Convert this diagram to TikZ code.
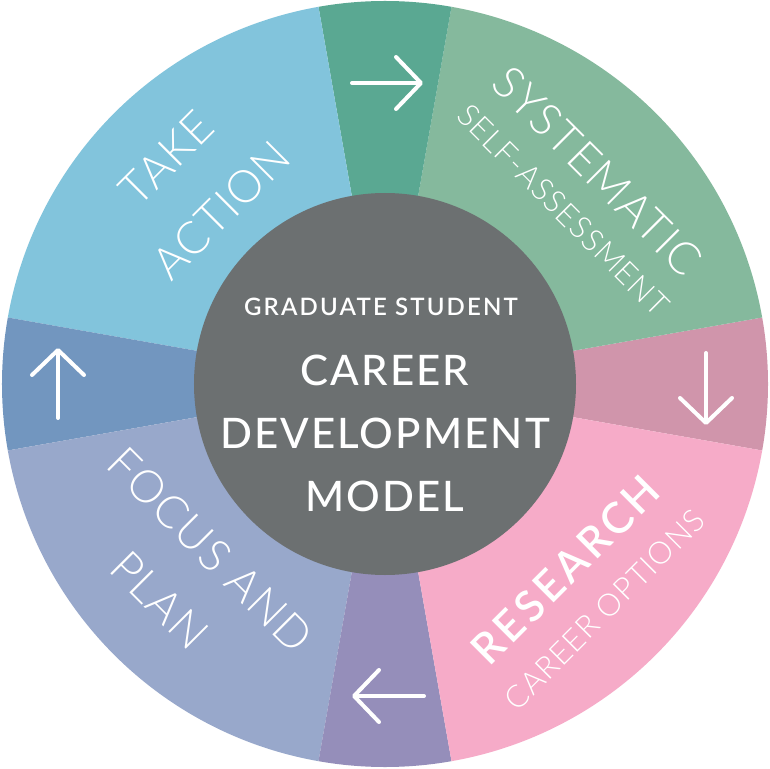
\documentclass[tikz,border=0pt]{standalone}
\usepackage{fontspec}
\setmainfont{Lato}
\newfontfamily\lightfont{Lato Light}[LetterSpace=3]
\newfontfamily\hubfont{Lato Medium}[LetterSpace=5]
\newfontfamily\gradfont{Lato Semibold}[LetterSpace=9]
\usetikzlibrary{arrows.meta,positioning}
\definecolor{actionblue}{HTML}{82C4DC}
\definecolor{turnteal}{HTML}{5AA892}
\definecolor{selfgreen}{HTML}{85B99D}
\definecolor{turnmauve}{HTML}{D095AB}
\definecolor{researchpink}{HTML}{F6ABC8}
\definecolor{turnpurple}{HTML}{958EBA}
\definecolor{planblue}{HTML}{98A8CB}
\definecolor{turnsteel}{HTML}{7296BF}
\definecolor{hubgrey}{HTML}{6C7071}

\begin{document}
\begin{tikzpicture}[x=1pt,y=1pt] % one unit is one pixel of the reference
\tikzset{title/.style={text=white, inner sep=0pt, font=\lightfont\fontsize{45}{45}\selectfont}} % big words in the ring
\tikzset{subtitle/.style={text=white, inner sep=0pt, font=\lightfont\fontsize{31}{31}\selectfont}} % small words under them
\tikzset{hubtext/.style={text=white, inner sep=0pt, font=\hubfont\fontsize{42}{42}\selectfont}} % words in the grey disc
\tikzset{turn/.style={white, line width=4pt, line cap=round, -{Straight Barb[length=25pt,width=52pt,round]}}} % arrows between steps
\useasboundingbox (-385,-384) rectangle (385,384);
% ring, counter-clockwise from the right
\foreach \from/\to/\col in {-10/10/turnmauve, 10/80/selfgreen, 80/100/turnteal, 100/170/actionblue, 170/190/turnsteel, 190/260/planblue, 260/280/turnpurple, 280/350/researchpink}
  \fill[\col] (0,0) -- (\from:383) arc[start angle=\from, end angle=\to, radius=383] -- cycle;
\node[circle, fill=hubgrey, minimum size=382pt, inner sep=0pt] (hub) at (0,0) {};
% centre
\node[hubtext, font=\gradfont\fontsize{24}{24}\selectfont] (grad) at (-4,77) {GRADUATE STUDENT};
\node[hubtext] (career) at (0,14) {CAREER};
\node[hubtext] (develop) at (0,-49) {DEVELOPMENT};
\node[hubtext] (model) at (0,-112) {MODEL};
% steps
\node[title, rotate=-45] (systematic) at (45:301) {SYSTEMATIC};
\node[subtitle, rotate=-45] (selfassess) at (44.3:249) {SELF-ASSESSMENT};
\node[title, font=\gradfont\fontsize{43}{43}\selectfont, rotate=45] (research) at (-45.8:259) {RESEARCH};
\node[subtitle, rotate=45] (careeropt) at (-45.8:315) {CAREER OPTIONS};
\node[title, rotate=-45] (focus) at (223.5:241) {FOCUS AND};
\node[title, rotate=-45] (plan) at (223.8:312) {PLAN};
\node[title, rotate=45] (take) at (134:314) {TAKE};
\node[title, rotate=45] (action) at (133.3:239) {ACTION};
% arrows
\coordinate (topA) at (-33,301);   \coordinate (topB) at (38,301);
\coordinate (rightA) at (321,31);  \coordinate (rightB) at (321,-41);
\coordinate (downA) at (39,-312);  \coordinate (downB) at (-33,-312);
\coordinate (leftA) at (-327,-34); \coordinate (leftB) at (-327,36);
\draw[turn] (topA) -- (topB);
\draw[turn] (rightA) -- (rightB);
\draw[turn] (downA) -- (downB);
\draw[turn] (leftA) -- (leftB);
\end{tikzpicture}
\end{document}
